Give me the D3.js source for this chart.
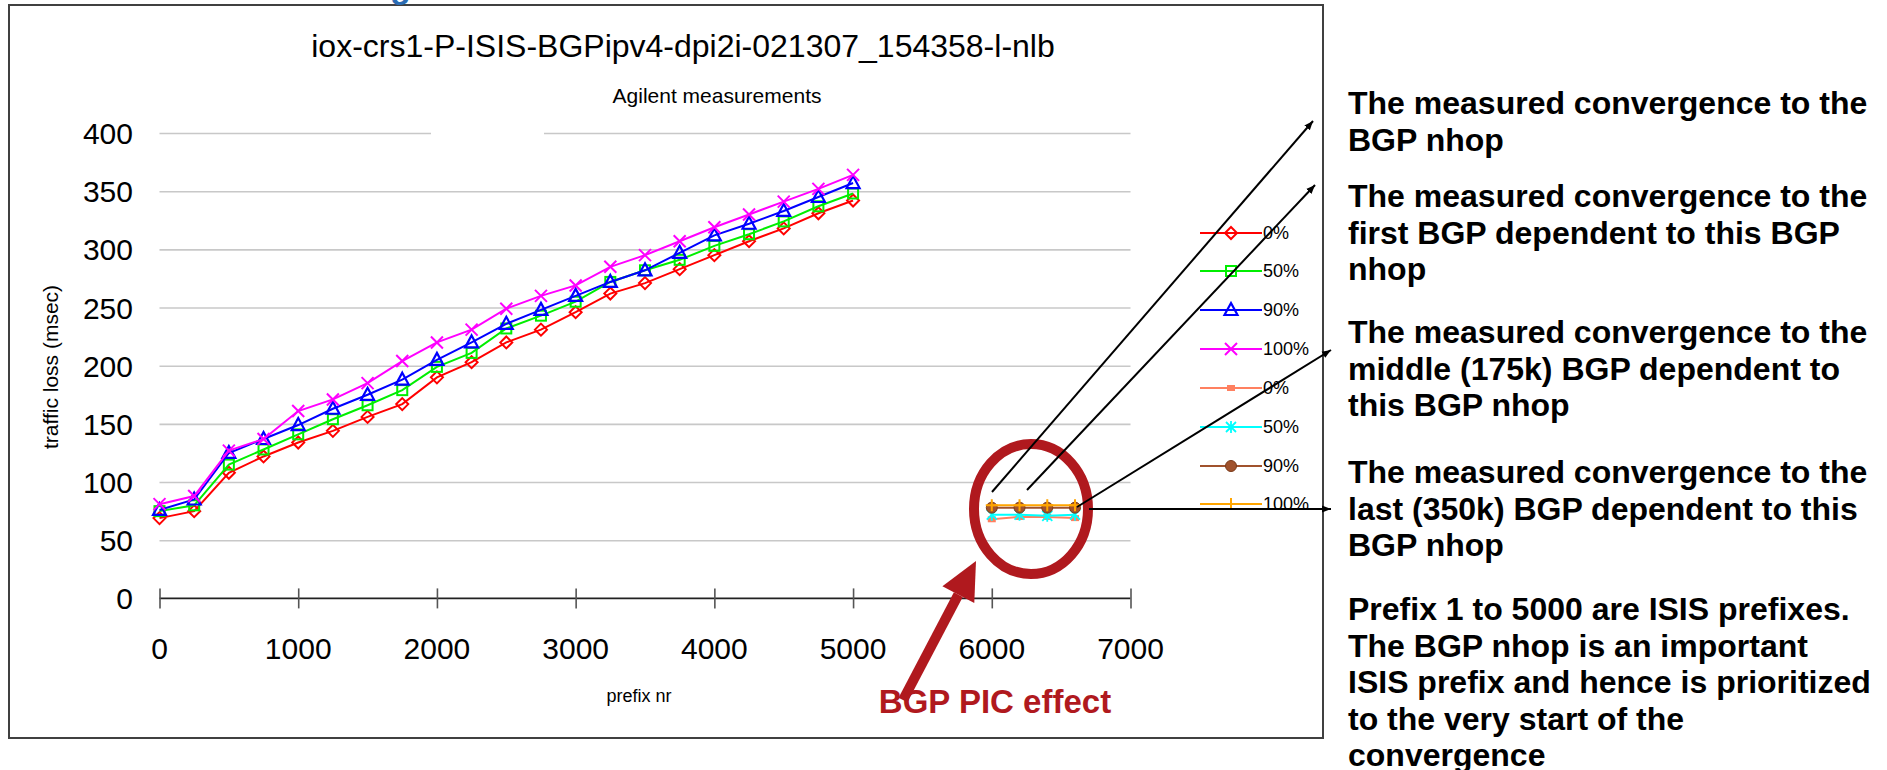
<!DOCTYPE html>
<html>
<head>
<meta charset="utf-8">
<script src="https://cdn.jsdelivr.net/npm/d3@7"></script>
<style>
  body { margin: 0; background: #fff; }
  svg { display: block; font-family: "Liberation Sans", Arial, sans-serif; }
</style>
</head>
<body>
<div id="graph"></div>
<script>
// prefix positions for the ISIS runs
const prefixes = [0, 250, 500, 750, 1000, 1250, 1500, 1750, 2000, 2250, 2500,
  2750, 3000, 3250, 3500, 3750, 4000, 4250, 4500, 4750, 5000];
const loss0 = [69, 75, 108, 122, 134, 144, 156, 167, 190, 203, 220, 231, 246, 262, 271, 283, 295, 307, 318, 331, 342];
const loss50 = [75, 80, 115, 128, 141, 154, 166, 179, 199, 211, 232, 243, 255, 272, 282, 291, 303, 313, 324, 337, 348];
const loss90 = [76, 85, 125, 137, 149, 163, 175, 188, 205, 220, 236, 248, 260, 272, 282, 297, 312, 322, 333, 345, 357];
const loss100 = [81, 88, 127, 137, 161, 171, 185, 204, 220, 231, 249, 260, 269, 285, 295, 307, 319, 330, 341, 352, 364];

// BGP dependent runs
const picPrefixes = [6000, 6200, 6400, 6600];
const pic0 = [68, 70, 70, 69];
const pic50 = [72, 72, 71, 72];
const pic90 = [78, 78, 78, 78];
const pic100 = [80, 80, 80, 80];

const seriesNames = ["0%", "50%", "90%", "100%", "0%", "50%", "90%", "100%"];
const xTicks = [0, 1000, 2000, 3000, 4000, 5000, 6000, 7000];
const yTicks = [0, 50, 100, 150, 200, 250, 300, 350, 400];

const notes = [
  ["The measured convergence to the", "BGP nhop"],
  ["The measured convergence to the", "first BGP dependent to this BGP", "nhop"],
  ["The measured convergence to the", "middle (175k) BGP dependent to", "this BGP nhop"],
  ["The measured convergence to the", "last (350k) BGP dependent to this", "BGP nhop"],
  ["Prefix 1 to 5000 are ISIS prefixes.", "The BGP nhop is an important",
   "ISIS prefix and hence is prioritized", "to the very start of the", "convergence"]
];

const w = 1887, h = 770;
const PICRED = "#b0191e";

const series = [
  { name: seriesNames[0], xs: prefixes, ys: loss0, color: "#ff0000", shape: "diamond" },
  { name: seriesNames[1], xs: prefixes, ys: loss50, color: "#00ee00", shape: "square" },
  { name: seriesNames[2], xs: prefixes, ys: loss90, color: "#0000ff", shape: "triangle" },
  { name: seriesNames[3], xs: prefixes, ys: loss100, color: "#ff00ff", shape: "x" },
  { name: seriesNames[4], xs: picPrefixes, ys: pic0, color: "#ff8060", shape: "dash" },
  { name: seriesNames[5], xs: picPrefixes, ys: pic50, color: "#00ffff", shape: "star" },
  { name: seriesNames[6], xs: picPrefixes, ys: pic90, color: "#a0522d", shape: "circle" },
  { name: seriesNames[7], xs: picPrefixes, ys: pic100, color: "#ffa500", shape: "plus" }
];

const xScale = d3.scaleLinear().domain([0, 7000]).range([159.5, 1130.5]);
const yScale = d3.scaleLinear().domain([0, 400]).range([598.4, 133]);

const svg = d3.select("#graph").append("svg").attr("width", w).attr("height", h);

// chart frame
svg.append("rect").attr("x", 9).attr("y", 5).attr("width", 1314).attr("height", 733)
  .attr("fill", "none").attr("stroke", "#404040").attr("stroke-width", 2);

// bottom of the slide heading, cut off at the top
svg.append("text").attr("x", 390).attr("y", -2).text("g")
  .style("font-size", "34px").style("font-weight", "bold").attr("fill", "#2b6cb3");

svg.append("text").attr("x", 683).attr("y", 57).attr("text-anchor", "middle")
  .text("iox-crs1-P-ISIS-BGPipv4-dpi2i-021307_154358-l-nlb").style("font-size", "32px");
svg.append("text").attr("x", 717).attr("y", 103).attr("text-anchor", "middle")
  .text("Agilent measurements").style("font-size", "21px");

// grid
const yAxisGrid = d3.axisLeft(yScale).tickValues(yTicks.slice(1)).tickSize(-(1130.5 - 159.5)).tickFormat("");
svg.append("g").attr("class", "y-axis-grid")
  .attr("transform", `translate(${xScale(0)}, 0)`)
  .call(yAxisGrid)
  .call(g => g.select(".domain").remove())
  .call(g => g.selectAll("line").attr("stroke", "#c8c8c8").attr("stroke-width", 1.6));
// gap in the top grid line
svg.append("rect").attr("x", 431).attr("y", 128).attr("width", 113).attr("height", 10).attr("fill", "#fff");

// y labels
svg.append("g").selectAll("text").data(yTicks).enter().append("text")
  .attr("x", 133).attr("y", d => yScale(d) + 11).attr("text-anchor", "end")
  .text(d => d).style("font-size", "30px");

// x axis
const xAxis = d3.axisBottom(xScale).tickValues(xTicks).tickSize(10).tickFormat("");
svg.append("g").attr("id", "x-axis")
  .attr("transform", `translate(0, ${yScale(0)})`)
  .call(xAxis)
  .call(g => g.select(".domain").attr("d", `M${xScale(0)},0H${xScale(7000)}`).attr("stroke", "#222").attr("stroke-width", 1.6))
  .call(g => g.selectAll(".tick line").attr("y1", -10).attr("y2", 10).attr("stroke", "#555").attr("stroke-width", 1.6));
svg.append("g").selectAll("text").data(xTicks).enter().append("text")
  .attr("x", d => xScale(d)).attr("y", 659).attr("text-anchor", "middle")
  .text(d => d).style("font-size", "30px");

svg.append("text").attr("transform", "translate(58, 367) rotate(-90)")
  .attr("text-anchor", "middle").text("traffic loss (msec)").style("font-size", "21px");
svg.append("text").attr("x", 639).attr("y", 702).attr("text-anchor", "middle")
  .text("prefix nr").style("font-size", "18px");

function marker(sel, s) {
  if (s.shape === "diamond") {
    sel.append("path").attr("d", "M0,-6L6,0L0,6L-6,0Z").attr("fill", "none").attr("stroke", s.color).attr("stroke-width", 2);
  } else if (s.shape === "square") {
    sel.append("rect").attr("x", -5).attr("y", -5).attr("width", 10).attr("height", 10).attr("fill", "none").attr("stroke", s.color).attr("stroke-width", 2);
  } else if (s.shape === "triangle") {
    sel.append("path").attr("d", "M0,-7L6.5,5L-6.5,5Z").attr("fill", "none").attr("stroke", s.color).attr("stroke-width", 2.2);
  } else if (s.shape === "x") {
    sel.append("path").attr("d", "M-6,-6L6,6M-6,6L6,-6").attr("stroke", s.color).attr("stroke-width", 2);
  } else if (s.shape === "dash") {
    sel.append("rect").attr("x", -4).attr("y", -3).attr("width", 8).attr("height", 6).attr("fill", s.color);
  } else if (s.shape === "star") {
    sel.append("path").attr("d", "M-5,-5L5,5M-5,5L5,-5M0,-6V6").attr("stroke", s.color).attr("stroke-width", 1.8);
  } else if (s.shape === "circle") {
    sel.append("circle").attr("r", 5.5).attr("fill", s.color).attr("stroke", "#7a3a1a").attr("stroke-width", 1);
  } else if (s.shape === "plus") {
    sel.append("path").attr("d", "M-6,0H6M0,-6V6").attr("stroke", s.color).attr("stroke-width", 2);
  }
}

const line = d3.line().x(d => xScale(d[0])).y(d => yScale(d[1]));

series.forEach(function (s) {
  const pts = s.xs.map((x, i) => [x, s.ys[i]]);
  svg.append("path").datum(pts).attr("d", line)
    .attr("fill", "none").attr("stroke", s.color).attr("stroke-width", 2);
  svg.append("g").selectAll("g").data(pts).enter().append("g")
    .attr("transform", d => `translate(${xScale(d[0])}, ${yScale(d[1])})`)
    .each(function () { marker(d3.select(this), s); });
});

// legend
const legendY = [233, 271, 310, 349, 388, 427, 466, 504];
const legend = svg.append("g").attr("id", "legend");
series.forEach(function (s, i) {
  const g = legend.append("g").attr("transform", `translate(1231, ${legendY[i]})`);
  g.append("line").attr("x1", -31).attr("x2", 31).attr("stroke", s.color).attr("stroke-width", 2);
  marker(g, s);
  g.append("text").attr("x", 32).attr("y", 6).text(s.name).style("font-size", "18px");
});

// PIC annotation
svg.append("ellipse").attr("cx", 1031).attr("cy", 509).attr("rx", 57).attr("ry", 65)
  .attr("fill", "none").attr("stroke", PICRED).attr("stroke-width", 10);

svg.append("defs").append("marker").attr("id", "ah").attr("viewBox", "0 0 10 10")
  .attr("refX", 10).attr("refY", 5).attr("markerWidth", 9).attr("markerHeight", 9)
  .attr("orient", "auto").attr("markerUnits", "userSpaceOnUse")
  .append("path").attr("d", "M0,1L10,5L0,9Z").attr("fill", "#000");

const arrows = [
  [992, 492, 1313, 121],
  [1027, 490, 1315, 185],
  [1077, 507, 1331, 350],
  [1089, 509, 1331, 509]
];
svg.append("g").selectAll("line").data(arrows).enter().append("line")
  .attr("x1", d => d[0]).attr("y1", d => d[1]).attr("x2", d => d[2]).attr("y2", d => d[3])
  .attr("stroke", "#000").attr("stroke-width", 2).attr("marker-end", "url(#ah)");

// red arrow pointing to the circle
const tip = [976, 561], tail = [903, 700];
const ang = Math.atan2(tip[1] - tail[1], tip[0] - tail[0]);
const hl = 38, hw = 18;
const bx = tip[0] - hl * Math.cos(ang), by = tip[1] - hl * Math.sin(ang);
svg.append("line").attr("x1", tail[0]).attr("y1", tail[1]).attr("x2", bx).attr("y2", by)
  .attr("stroke", PICRED).attr("stroke-width", 10);
svg.append("path")
  .attr("d", `M${tip[0]},${tip[1]}L${bx + hw * Math.sin(ang)},${by - hw * Math.cos(ang)}L${bx - hw * Math.sin(ang)},${by + hw * Math.cos(ang)}Z`)
  .attr("fill", PICRED);
svg.append("text").attr("x", 995).attr("y", 713).attr("text-anchor", "middle")
  .text("BGP PIC effect").style("font-size", "33px").style("font-weight", "bold").attr("fill", PICRED);

// notes on the right
const noteTop = [114, 207, 343, 483, 620];
notes.forEach(function (lines, i) {
  svg.append("g").selectAll("text").data(lines).enter().append("text")
    .attr("x", 1348).attr("y", (d, j) => noteTop[i] + j * 36.6)
    .text(d => d).style("font-size", "32px").style("font-weight", "bold");
});
</script>
</body>
</html>
